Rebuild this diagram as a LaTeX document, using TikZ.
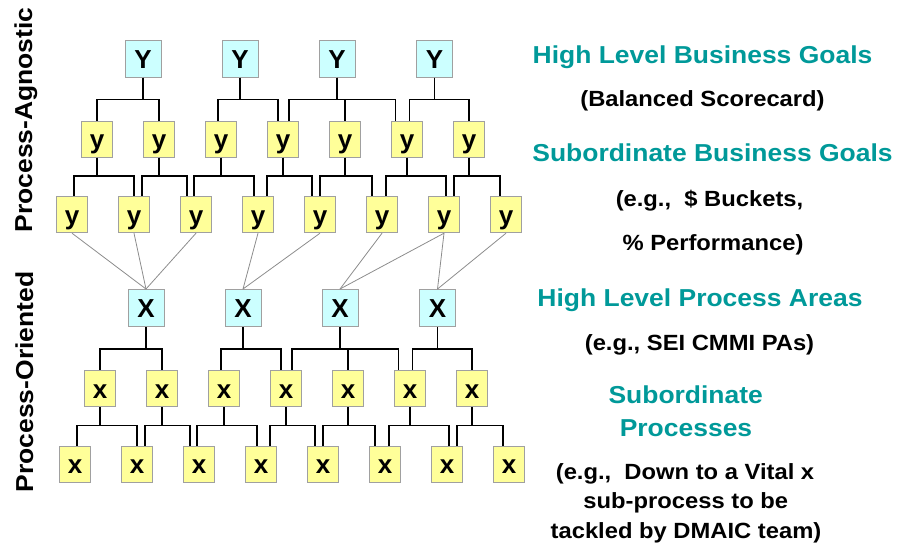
\documentclass[tikz,border=0pt]{standalone}
\usepackage{fontspec}
\setmainfont{Liberation Sans}
\newfontfamily\lblfont{Liberation Sans}[FakeStretch=1.08]
\usetikzlibrary{calc}

\definecolor{goalteal}{RGB}{0,153,153}
\definecolor{boxcyan}{RGB}{204,255,255}
\definecolor{boxyellow}{RGB}{255,255,153}
\definecolor{boxedge}{RGB}{160,160,160}
\definecolor{linkgray}{RGB}{140,140,140}

\tikzset{
  letterbox/.style={draw=boxedge, line width=1pt, inner sep=0pt,
    text height=19pt, text depth=0pt,
    font=\fontsize{26}{26}\selectfont\bfseries},
  bigbox/.style={letterbox, fill=boxcyan, minimum width=36pt, minimum height=37pt},
  smallbox/.style={letterbox, fill=boxyellow, minimum width=31pt, minimum height=36pt},
  tie/.style={draw=black, line width=1.3pt},
  link/.style={draw=linkgray, line width=0.8pt},
  heading/.style={text=goalteal, anchor=base, inner sep=0pt,
    font=\lblfont\fontsize{24.5}{29}\selectfont\bfseries},
  note/.style={text=black, anchor=base, inner sep=0pt,
    font=\lblfont\fontsize{22}{26}\selectfont\bfseries},
  side/.style={text=black, anchor=base, inner sep=0pt, rotate=90,
    font=\lblfont\fontsize{24.5}{29}\selectfont\bfseries}
}

% One three-level goal tree: #1 name prefix, #2 top letter, #3 lower letter
\newcommand\halftree[3]{%
  \foreach \i/\x in {1/143,2/240,3/337,4/434.5}
    \node[bigbox] (#1-r\i) at (\x,58.5) {#2};
  \foreach \i/\x in {1/97,2/159,3/221,4/283,5/345,6/407,7/469}
    \node[smallbox] (#1-a\i) at (\x,139) {#3};
  \foreach \i/\x in {1/72,2/134,3/196,4/258,5/320,6/382,7/444,8/506}
    \node[smallbox] (#1-b\i) at (\x,214.7) {#3};
  % top level to middle level
  \foreach \i/\j/\o in {1/1/0,1/2/0,2/3/-3,2/4/-5,3/4/6,3/5/0,3/6/-11.5,4/6/2.5,4/7/0}
    \draw[tie] (#1-r\i.south) -- ++(0,22) -| ([xshift=\o pt]#1-a\j.north);
  % middle level to bottom level
  \foreach \i/\j/\o in {1/1/2,1/2/0,2/2/8,2/3/-9,3/3/-2,3/4/-4,4/4/9,4/5/-8,
                        5/5/0,5/6/-10,6/6/4,6/7/2,7/7/10,7/8/-6}
    \draw[tie] (#1-a\i.south) -- ++(0,18.5) -| ([xshift=\o pt]#1-b\j.north);
}

\begin{document}
\begin{tikzpicture}[x=1pt,y=-1pt]
  \path[use as bounding box] (0,0) rectangle (897,542);

  % business goal tree
  \begin{scope}
    \halftree{up}{Y}{y}
  \end{scope}
  % process tree
  \begin{scope}[shift={(3,249.5)}]
    \halftree{lo}{X}{x}
  \end{scope}

  % goals mapped onto process areas
  \foreach \j/\k in {1/1,2/1,3/1,4/2,5/2,6/3,7/3,7/4,8/4}
    \draw[link] (up-b\j.south) -- (lo-r\k.north);

  % side captions
  \node[side] (agnostic) at (32,120) {Process-Agnostic};
  \node[side] (oriented) at (33,382) {Process-Oriented};

  % level descriptions
  \node[heading] (hlbg) at (702.5,63.3) {High Level Business Goals};
  \node[note] (bsc) at (702.5,106.7) {(Balanced Scorecard)};
  \node[heading] (sbg) at (712.5,161.7) {Subordinate Business Goals};
  \node[note] (bucket) at (709.5,206.7) {(e.g.,\ \ \$ Buckets,};
  \node[note] (perf) at (713,250) {\% Performance)};
  \node[heading] (hlpa) at (700,306) {High Level Process Areas};
  \node[note] (cmmi) at (699.5,350.7) {(e.g., SEI CMMI PAs)};
  \node[heading] (subp1) at (685.7,403.3) {Subordinate};
  \node[heading] (subp2) at (686,436) {Processes};
  \node[note] (vital1) at (685,479) {(e.g.,\ \ Down to a Vital x};
  \node[note] (vital2) at (685.8,508.3) {sub-process to be};
  \node[note] (vital3) at (686,538.3) {tackled by DMAIC team)};
\end{tikzpicture}
\end{document}
